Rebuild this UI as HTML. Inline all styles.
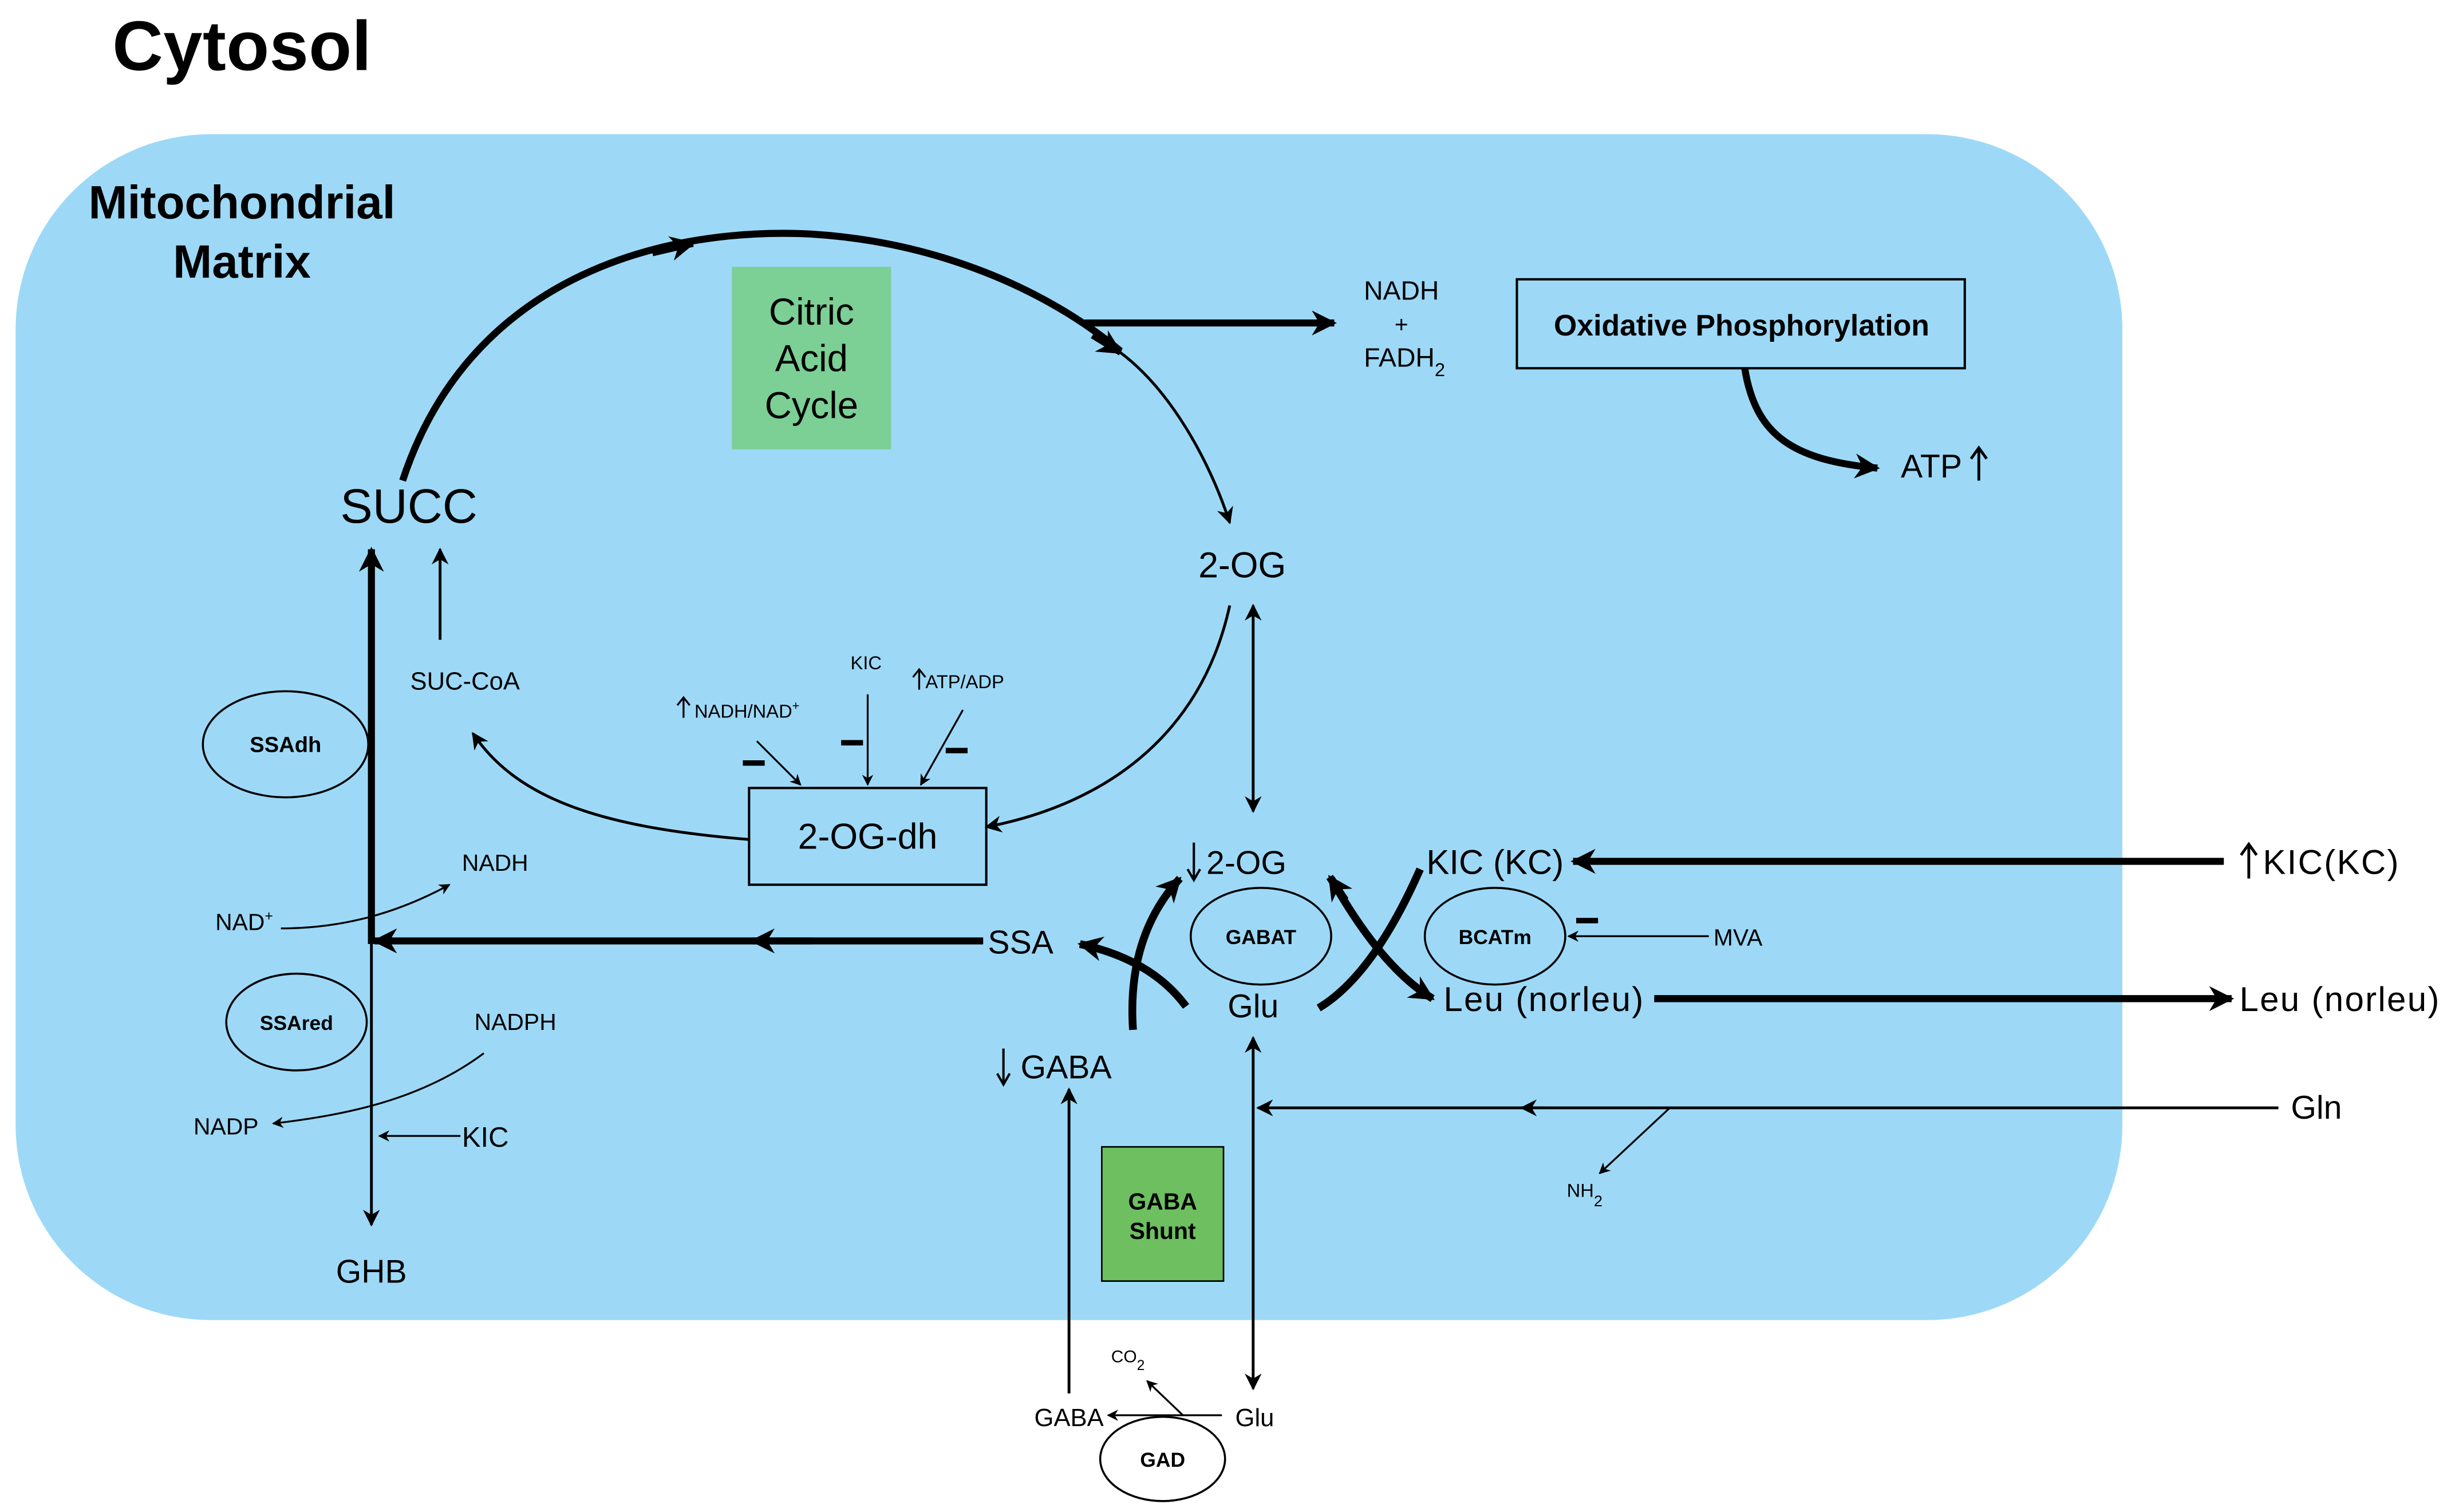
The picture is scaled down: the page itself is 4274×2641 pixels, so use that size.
<!DOCTYPE html>
<html><head><meta charset="utf-8"><style>html,body{margin:0;padding:0;background:#fff}svg{display:block}text{font-family:"Liberation Sans",sans-serif;fill:#000}</style></head>
<body>
<svg width="4274" height="2641" viewBox="0 0 1568 969" preserveAspectRatio="none" xmlns="http://www.w3.org/2000/svg">
<defs>
<marker id="a" viewBox="0 0 10 10" refX="9" refY="5" markerWidth="8" markerHeight="8" orient="auto-start-reverse" markerUnits="userSpaceOnUse"><path d="M0,0 L10,5 L0,10 L3,5z" fill="#000"/></marker>
<marker id="b" viewBox="0 0 10 10" refX="9" refY="5" markerWidth="6" markerHeight="6" orient="auto-start-reverse"><path d="M0,0 L10,5 L0,10 L3,5z" fill="#000"/></marker>
<marker id="c" viewBox="0 0 10 10" refX="9" refY="5" markerWidth="16" markerHeight="16" orient="auto-start-reverse" markerUnits="userSpaceOnUse"><path d="M0,0 L10,5 L0,10 L3,5z" fill="#000"/></marker>
</defs>
<text x="72" y="45" font-size="45" font-weight="bold" textLength="166">Cytosol</text>
<rect x="10" y="86" width="1350" height="760" rx="125" fill="#9dd9f7"/>
<text x="155" y="140" font-size="30" font-weight="bold" text-anchor="middle">Mitochondrial</text>
<text x="155" y="178" font-size="30" font-weight="bold" text-anchor="middle">Matrix</text>
<rect x="469" y="171" width="102" height="117" fill="#7ccf95"/>
<text x="520" y="208" font-size="24" text-anchor="middle">Citric</text>
<text x="520" y="238" font-size="24" text-anchor="middle">Acid</text>
<text x="520" y="268" font-size="24" text-anchor="middle">Cycle</text>
<g stroke="#000" fill="none">
<path d="M258,308 C300,180 420,145 520,150 C600,155 670,185 718,225" stroke-width="4.5"/>
<path d="M418,162 L444,156" stroke-width="4.5" marker-end="url(#c)"/>
<path d="M700,215 L718,226" stroke-width="4" marker-end="url(#c)"/>
<path d="M718,226 C750,250 775,295 788,335" stroke-width="1.8" marker-end="url(#b)"/>
<path d="M695,207 L855,207" stroke-width="4.5" marker-end="url(#c)"/>
<rect x="972" y="179" width="287" height="57" stroke-width="1.5"/>
<path d="M1118,236 C1125,280 1150,295 1203,300" stroke-width="4.5" marker-end="url(#c)"/>
<path d="M788,388 C770,470 710,515 632,530" stroke-width="1.8" marker-end="url(#b)"/>
<rect x="480" y="505" width="152" height="62" stroke-width="1.5"/>
<path d="M480,538 C380,530 330,510 303,470" stroke-width="1.8" marker-end="url(#b)"/>
<path d="M282,410 L282,352" stroke-width="1.8" marker-end="url(#b)"/>
<path d="M238,605 L238,352" stroke-width="4.5" marker-end="url(#c)"/>
<path d="M238,605 L238,785" stroke-width="1.8" marker-end="url(#b)"/>
<ellipse cx="183" cy="477" rx="53" ry="34" stroke-width="1.3"/>
<ellipse cx="190" cy="655" rx="45" ry="31" stroke-width="1.3"/>
<path d="M180,595 C220,595 255,585 288,567" stroke-width="1.2" marker-end="url(#b)"/>
<path d="M310,675 C270,705 220,715 175,720" stroke-width="1.2" marker-end="url(#b)"/>
<path d="M295,728 L243,728" stroke-width="1.2" marker-end="url(#b)"/>
<path d="M630,603 L240,603" stroke-width="4.5" marker-end="url(#c)"/>
<path d="M520,603 L482,603" stroke-width="4.5" marker-end="url(#c)"/>
<path d="M803,520 L803,388" stroke-width="1.8" marker-start="url(#b)" marker-end="url(#b)"/>
<ellipse cx="808" cy="600" rx="45" ry="31" stroke-width="1.3"/>
<ellipse cx="958" cy="600" rx="45" ry="31" stroke-width="1.3"/>
<path d="M1425,552 L1008,552" stroke-width="4.5" marker-end="url(#c)"/>
<path d="M1095,600 L1005,600" stroke-width="1.2" marker-end="url(#b)"/>
<path d="M1060,640 L1430,640" stroke-width="4.5" marker-end="url(#c)"/>
<path d="M1460,710 L806,710" stroke-width="1.8" marker-end="url(#b)"/>
<path d="M990,710 L975,710" stroke-width="1.8" marker-end="url(#b)"/>
<path d="M1070,710 L1025,752" stroke-width="1.2" marker-end="url(#b)"/>
<path d="M803,665 L803,890" stroke-width="1.8" marker-start="url(#b)" marker-end="url(#b)"/>
<path d="M685,893 L685,698" stroke-width="1.8" marker-end="url(#b)"/>
<path d="M783,907 L710,907" stroke-width="1.2" marker-end="url(#b)"/>
<path d="M758,907 L735,885" stroke-width="1.2" marker-end="url(#b)"/>
<ellipse cx="745" cy="935" rx="40" ry="27" stroke-width="1.3"/>
<!-- curved thick arrows around GABAT -->
<path d="M726,660 Q722,600 756,563" stroke-width="5" marker-end="url(#c)"/>
<path d="M760,645 Q738,615 692,605" stroke-width="5" marker-end="url(#c)"/>
<path d="M910,557 Q880,625 845,646" stroke-width="5"/>
<path d="M853,563 Q885,620 918,640" stroke-width="5" marker-end="url(#c)"/>
<path d="M862,577 L852,562" stroke-width="5" marker-end="url(#c)"/>
<!-- inhibitor arrows -->
<path d="M485,475 L513,503" stroke-width="1.2" marker-end="url(#b)"/>
<path d="M556,445 L556,503" stroke-width="1.2" marker-end="url(#b)"/>
<path d="M617,455 L590,503" stroke-width="1.2" marker-end="url(#b)"/>
<path d="M438,460 L438,448 M434,452 L438,447 L442,452" stroke-width="1.2"/>
<path d="M589,442 L589,430 M585,434 L589,429 L593,434" stroke-width="1.2"/>
<path d="M1268,308 L1268,288 M1263,294 L1268,287 L1273,294" stroke-width="1.8"/>
<path d="M1441,563 L1441,542 M1436,548 L1441,541 L1446,548" stroke-width="1.8"/>
<path d="M765,540 L765,563 M761,557 L765,564 L769,557" stroke-width="1.5"/>
<path d="M643,672 L643,694 M639,688 L643,695 L647,688" stroke-width="1.5"/>
</g>
<g stroke="#000" stroke-width="3.5">
<line x1="476" y1="489" x2="490" y2="489"/><line x1="539" y1="476" x2="553" y2="476"/><line x1="606" y1="481" x2="620" y2="481"/><line x1="1010" y1="590" x2="1024" y2="590"/>
</g>
<text x="898" y="192" font-size="17" text-anchor="middle">NADH</text>
<text x="898" y="213" font-size="15" text-anchor="middle">+</text>
<text x="874" y="235" font-size="17">FADH<tspan font-size="12" dy="6">2</tspan></text>
<text x="1116" y="215" font-size="19" font-weight="bold" text-anchor="middle">Oxidative Phosphorylation</text>
<text x="1218" y="306" font-size="21">ATP</text>
<text x="262" y="335" font-size="31" text-anchor="middle">SUCC</text>
<text x="796" y="370" font-size="23" text-anchor="middle">2-OG</text>
<text x="298" y="442" font-size="16" text-anchor="middle">SUC-CoA</text>
<text x="556" y="544" font-size="23" text-anchor="middle">2-OG-dh</text>
<text x="445" y="460" font-size="12">NADH/NAD<tspan font-size="8" dy="-5">+</tspan></text>
<text x="555" y="429" font-size="12" text-anchor="middle">KIC</text>
<text x="593" y="441" font-size="12">ATP/ADP</text>
<text x="183" y="482" font-size="14" font-weight="bold" text-anchor="middle">SSAdh</text>
<text x="190" y="660" font-size="13" font-weight="bold" text-anchor="middle">SSAred</text>
<text x="296" y="558" font-size="15">NADH</text>
<text x="138" y="596" font-size="15">NAD<tspan font-size="9" dy="-6">+</tspan></text>
<text x="304" y="660" font-size="15">NADPH</text>
<text x="124" y="727" font-size="15">NADP</text>
<text x="296" y="735" font-size="18">KIC</text>
<text x="238" y="822" font-size="21" text-anchor="middle">GHB</text>
<text x="633" y="611" font-size="21">SSA</text>
<text x="773" y="560" font-size="21">2-OG</text>
<text x="808" y="605" font-size="13" font-weight="bold" text-anchor="middle">GABAT</text>
<text x="803" y="652" font-size="21" text-anchor="middle">Glu</text>
<text x="914" y="560" font-size="22">KIC (KC)</text>
<text x="958" y="605" font-size="13" font-weight="bold" text-anchor="middle">BCATm</text>
<text x="925" y="648" font-size="22" textLength="128">Leu (norleu)</text>
<text x="1450" y="560" font-size="22" textLength="87">KIC(KC)</text>
<text x="1098" y="606" font-size="15">MVA</text>
<text x="1435" y="648" font-size="22" textLength="128">Leu (norleu)</text>
<text x="1468" y="717" font-size="21">Gln</text>
<text x="1004" y="767" font-size="12">NH<tspan font-size="10" dy="6">2</tspan></text>
<text x="654" y="691" font-size="21">GABA</text>
<rect x="706" y="735" width="78" height="86" fill="#6dbf5f" stroke="#000" stroke-width="1"/>
<text x="745" y="775" font-size="15" font-weight="bold" text-anchor="middle">GABA</text>
<text x="745" y="794" font-size="15" font-weight="bold" text-anchor="middle">Shunt</text>
<text x="685" y="914" font-size="16" text-anchor="middle">GABA</text>
<text x="804" y="914" font-size="16" text-anchor="middle">Glu</text>
<text x="712" y="873" font-size="11">CO<tspan font-size="9" dy="5">2</tspan></text>
<text x="745" y="940" font-size="13" font-weight="bold" text-anchor="middle">GAD</text>
</svg>
</body></html>
